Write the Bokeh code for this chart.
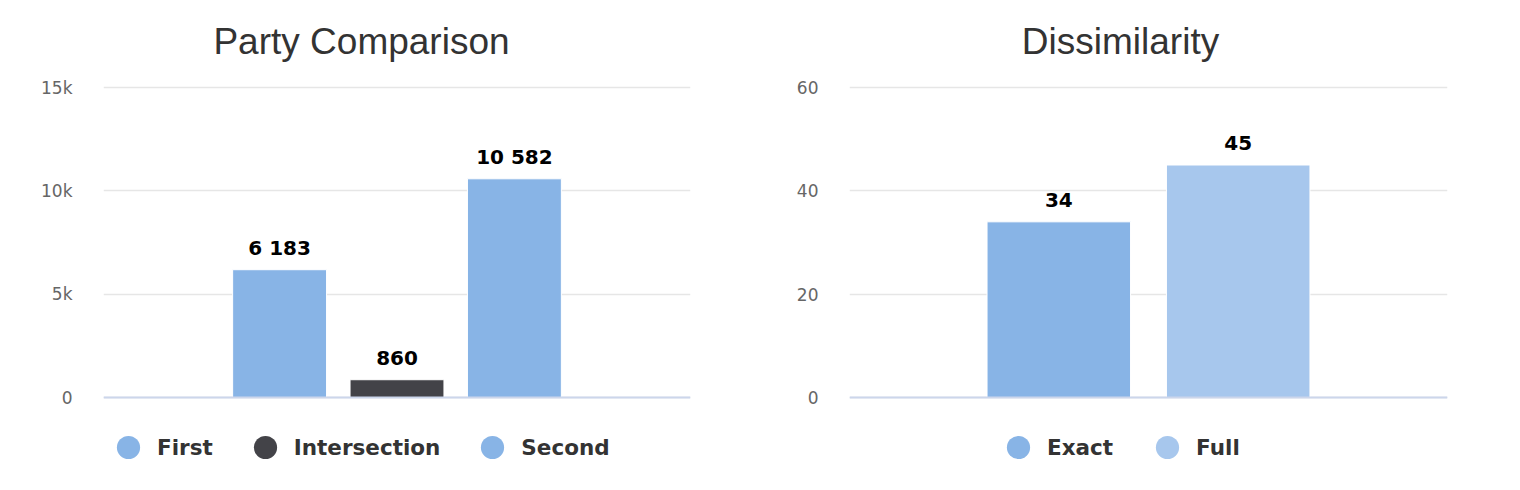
from bokeh.plotting import figure
from bokeh.models import Range1d, FixedTicker, Legend, LegendItem, Span, Label
from bokeh.layouts import row
from bokeh.embed import file_html
from bokeh.resources import INLINE
from bokeh.core.properties import value

# ---- data ----
party_title = "Party Comparison"
party_series = ["First", "Intersection", "Second"]
party_values = [6183, 860, 10582]
party_colors = ["#88b4e6", "#434348", "#88b4e6"]
party_ticks = [0, 5000, 10000, 15000]
party_tick_labels = ["0", "5k", "10k", "15k"]

dis_title = "Dissimilarity"
dis_series = ["Exact", "Full"]
dis_values = [34, 45]
dis_colors = ["#88b4e6", "#a7c7ed"]
dis_ticks = [0, 20, 40, 60]
dis_tick_labels = ["0", "20", "40", "60"]

# ---- layout constants (pixels) ----
FIG_W = 750
FIG_H = 485
TOP_PAD = 87        # frame pixels above the top tick (title area)
VALUE_H = 310       # pixels between 0 and the top tick
BELOW_ZERO = FIG_H - TOP_PAD - VALUE_H  # frame pixels under zero (legend area)
TITLE_BASELINE = 41  # from top of figure


def make_chart(title, series, values, colors, ticks, tick_labels,
               border_left, frame_w, title_center, legend_x, spacing):
    n = len(series)
    half = n / 1.2
    xs = [i - (n - 1) / 2 for i in range(n)]
    top = ticks[-1]
    ymin = -top * BELOW_ZERO / VALUE_H
    ymax = top * (VALUE_H + TOP_PAD) / VALUE_H
    p = figure(width=FIG_W, height=FIG_H, output_backend="svg",
               toolbar_location=None, tools="",
               x_range=Range1d(-half, half),
               y_range=Range1d(ymin, ymax),
               min_border_left=border_left,
               min_border_right=FIG_W - border_left - frame_w,
               min_border_top=0,
               min_border_bottom=0)
    p.outline_line_color = None
    p.background_fill_color = "white"
    p.border_fill_color = "white"

    p.add_layout(Label(x=title_center, y=FIG_H - TITLE_BASELINE,
                       x_units="screen", y_units="screen", text=title,
                       text_align="center", text_baseline="alphabetic",
                       text_font="Liberation Sans", text_font_size="37px",
                       text_color="#333333"))

    p.xaxis.visible = False
    p.xgrid.visible = False
    p.ygrid.ticker = FixedTicker(ticks=ticks)
    p.ygrid.grid_line_color = "#e6e6e6"
    p.ygrid.grid_line_width = 1.5

    p.yaxis.ticker = FixedTicker(ticks=ticks)
    p.yaxis.major_label_overrides = {t_: l for t_, l in zip(ticks, tick_labels)}
    p.yaxis.axis_line_color = None
    p.yaxis.major_tick_line_color = None
    p.yaxis.minor_tick_line_color = None
    p.yaxis.major_tick_out = 0
    p.yaxis.major_label_standoff = 31
    p.yaxis.major_label_text_font = "DejaVu Sans"
    p.yaxis.major_label_text_font_size = "17px"
    p.yaxis.major_label_text_color = "#666666"

    items = []
    for x, v, c, name in zip(xs, values, colors, series):
        p.vbar(x=[x], top=[v], bottom=0, width=0.8, fill_color=c,
               line_color="white", line_width=1)
        dot = p.scatter(x=[x], y=[v], size=0, fill_color=c, line_color=None)
        items.append(LegendItem(label=name, renderers=[dot]))

    p.add_layout(Span(location=0, dimension="width",
                      line_color="#ccd6eb", line_width=2))

    labels = [f"{v:,}".replace(",", " ") for v in values]
    p.text(x=xs, y=values, text=labels, text_align="center",
           text_baseline="alphabetic", y_offset=-22,
           text_font=value("DejaVu Sans"), text_font_style="bold",
           text_font_size="20px", text_color="black")

    legend = Legend(items=items, orientation="horizontal",
                    location=(legend_x, 9),
                    glyph_width=58, glyph_height=58,
                    label_standoff=0, spacing=spacing, padding=0, margin=0,
                    border_line_color=None, background_fill_alpha=0,
                    label_text_font="DejaVu Sans", label_text_font_style="bold",
                    label_text_font_size="21.5px", label_text_color="#333333")
    p.add_layout(legend, "center")
    return p


p1 = make_chart(party_title, party_series, party_values, party_colors,
                party_ticks, party_tick_labels,
                border_left=103, frame_w=587, title_center=258,
                legend_x=-4, spacing=23)
p2 = make_chart(dis_title, dis_series, dis_values, dis_colors,
                dis_ticks, dis_tick_labels,
                border_left=99, frame_w=598, title_center=271,
                legend_x=140, spacing=25)

layout = row(p1, p2)
open("out.html", "w").write(file_html(layout, INLINE))
